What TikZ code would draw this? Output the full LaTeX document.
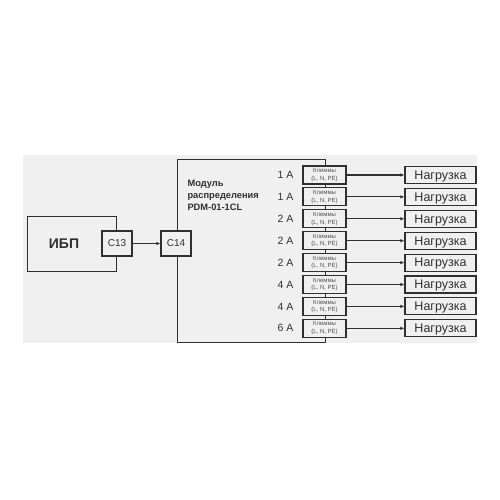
\documentclass[tikz,border=0pt]{standalone}
\usepackage{fontspec}
\setmainfont{Liberation Sans}
\usetikzlibrary{arrows.meta}
\definecolor{bg}{HTML}{F0F0F0}
\definecolor{ln}{HTML}{303030}
\begin{document}
\begin{tikzpicture}[x=1pt,y=-1pt,
  box/.style={draw=ln,line width=1.1pt,fill=bg,inner sep=0pt},
  term/.style={box,minimum width=43pt,minimum height=18pt,align=center,font=\fontsize{6}{7.6}\selectfont,text=ln!85},
  load/.style={box,minimum width=71pt,minimum height=17pt,text depth=0pt,font=\fontsize{12.5}{12.5}\selectfont,text=ln},
  conn/.style={box,minimum width=30pt,minimum height=25pt,text depth=0pt,font=\fontsize{10}{10}\selectfont,text=ln},
  amp/.style={anchor=east,text depth=0pt,font=\fontsize{10.5}{10.5}\selectfont,text=ln},
  arr/.style={draw=ln,line width=1.1pt,-{Latex[length=4pt,width=3.4pt]}}]
\useasboundingbox (0,0) rectangle (500,500);
\fill[bg] (23,155) rectangle (477,343);
% module
\node[box,minimum width=148pt,minimum height=183pt,anchor=north west] (mod) at (177,159) {};
\node[anchor=north west,align=left,font=\bfseries\fontsize{9.3}{12}\selectfont,text=ln] (modt) at (184,177) {Модуль\\распределения\\PDM-01-1CL};
% UPS
\node[box,minimum width=89pt,minimum height=55pt,anchor=north west] (ups) at (27,216) {};
\node[font=\fontsize{14}{14}\selectfont\bfseries,text depth=0pt,text=ln] (upst) at (64,243.5) {ИБП};
\node[conn] (c13) at (117,243.5) {C13};
\node[conn] (c14) at (176,243.5) {C14};
\draw[arr] (c13) -- (c14);
% rows
\foreach \i/\a in {0/1 A,1/1 A,2/2 A,3/2 A,4/2 A,5/4 A,6/4 A,7/6 A}{
  \pgfmathsetmacro{\yy}{175+21.9*\i}
  \node[amp] (a\i) at (297,\yy) {\a};
  \node[term] (t\i) at (324.5,\yy) {Клеммы\\(L, N, PE)};
  \node[load] (l\i) at (440.5,\yy) {Нагрузка};
  \draw[arr] (t\i) -- (l\i);
}
\end{tikzpicture}
\end{document}
